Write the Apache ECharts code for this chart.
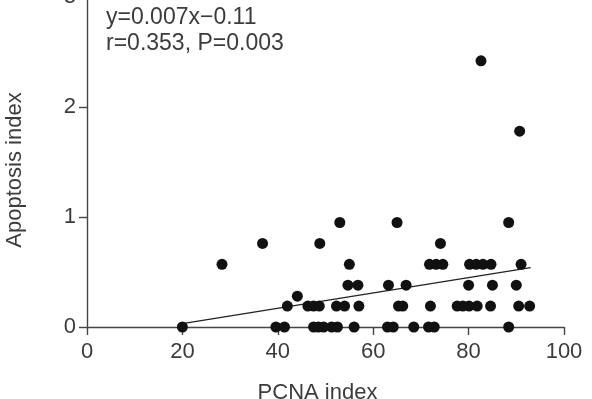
<!DOCTYPE html>
<html>
<head>
<meta charset="utf-8">
<script src="https://cdn.jsdelivr.net/npm/echarts@6/dist/echarts.min.js"></script>
<style>
  html, body { margin: 0; padding: 0; background: #fff; }
  #chart { width: 592px; height: 399px; }
</style>
</head>
<body>
<div id="chart"></div>
<script>
// PCNA index (x) and apoptosis index (y)
const pcnaIndex = [
  20, 39.6, 41.4, 47.5, 48.5, 49.6, 51.3, 52.5, 56, 63, 64.2, 68.5, 71.6, 72.8, 88.4,
  42, 46.3, 47.5, 48.7, 52.3, 54, 57, 65.3, 66.2, 72, 77.6, 78.8, 80.1, 81.8, 84.6, 90.5, 92.8,
  44.1,
  54.7, 56.8, 63.2, 66.9, 80, 85, 90,
  28.3, 55, 71.8, 73.2, 74.6, 80.2, 81.6, 83, 84.7, 91,
  36.8, 48.8, 74.1,
  53, 65, 88.4,
  90.7,
  82.6
];
const apoptosisIndex = [
  0, 0, 0, 0, 0, 0, 0, 0, 0, 0, 0, 0, 0, 0, 0,
  0.19, 0.19, 0.19, 0.19, 0.19, 0.19, 0.19, 0.19, 0.19, 0.19, 0.19, 0.19, 0.19, 0.19, 0.19, 0.19, 0.19,
  0.28,
  0.38, 0.38, 0.38, 0.38, 0.38, 0.38, 0.38,
  0.57, 0.57, 0.57, 0.57, 0.57, 0.57, 0.57, 0.57, 0.57, 0.57,
  0.76, 0.76, 0.76,
  0.95, 0.95, 0.95,
  1.78,
  2.42
];

// fitted line endpoints (y=0.007x-0.11)
const fitX = [20, 93];
const fitY = [0.03, 0.54];

const xTicks = [0, 20, 40, 60, 80, 100];
const yTicks = [0, 1, 2, 3];

const annotation = ['y=0.007x\u22120.11', 'r=0.353, P=0.003'];

const textColor = '#3c3c3c';
const axisColor = '#444';
const dotColor = '#111';
const fontFamily = '"Liberation Sans", Arial, sans-serif';

const chart = echarts.init(document.getElementById('chart'), null, { renderer: 'canvas' });

const points = pcnaIndex.map((x, i) => [x, apoptosisIndex[i]]);
const fitLine = fitX.map((x, i) => [x, fitY[i]]);

const axisCommon = {
  type: 'value',
  splitLine: { show: false },
  axisLine: { show: true, onZero: false, lineStyle: { color: axisColor, width: 1.4 } },
  axisTick: { show: true, inside: false, length: 8, lineStyle: { color: axisColor, width: 1.4 } },
  nameTextStyle: { color: textColor, fontSize: 22, fontFamily: fontFamily, padding: [0, 16, 0, 0] }
};

const option = {
  animation: false,
  backgroundColor: '#fff',
  grid: { left: 87, right: 28, top: -3, bottom: 72, containLabel: false, outerBoundsMode: 'none' },
  xAxis: Object.assign({}, axisCommon, {
    min: xTicks[0],
    max: xTicks[xTicks.length - 1],
    interval: xTicks[1] - xTicks[0],
    name: 'PCNA index',
    nameLocation: 'middle',
    nameGap: 55,
    axisLabel: { color: textColor, fontSize: 22, fontFamily: fontFamily, margin: 14 }
  }),
  yAxis: Object.assign({}, axisCommon, {
    min: yTicks[0],
    max: yTicks[yTicks.length - 1],
    interval: yTicks[1] - yTicks[0],
    name: 'Apoptosis index',
    nameLocation: 'middle',
    nameGap: 61,
    axisLabel: { color: textColor, fontSize: 22, fontFamily: fontFamily, margin: 11 }
  }),
  graphic: [
    {
      type: 'text',
      left: 106,
      top: 5,
      style: {
        text: annotation.join('\n'),
        fill: textColor,
        font: '23px ' + fontFamily,
        lineHeight: 26
      }
    }
  ],
  series: [
    {
      type: 'line',
      data: fitLine,
      symbol: 'none',
      lineStyle: { color: '#222', width: 1.3 },
      z: 1
    },
    {
      type: 'scatter',
      data: points,
      symbol: 'circle',
      symbolSize: 11,
      itemStyle: { color: dotColor, opacity: 1 },
      z: 2
    }
  ]
};

chart.setOption(option);
</script>
</body>
</html>
